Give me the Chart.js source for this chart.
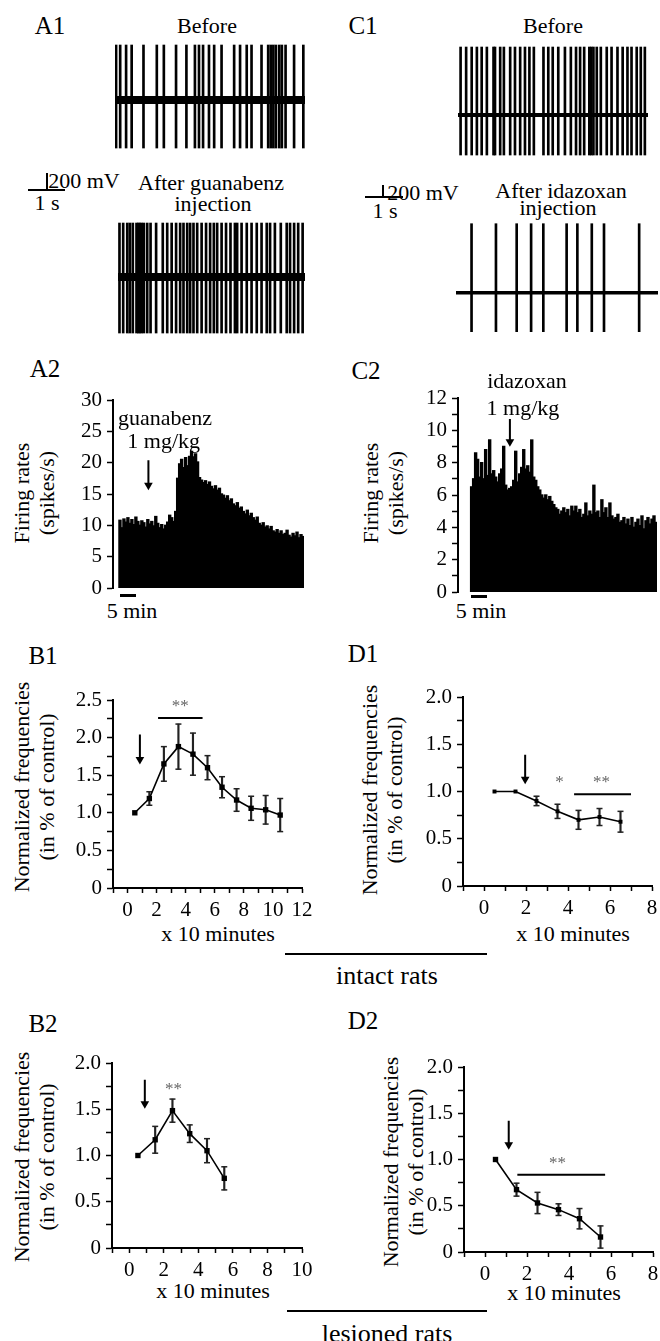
<!DOCTYPE html>
<html>
<head>
<meta charset="utf-8">
<script src="https://cdn.jsdelivr.net/npm/chart.js@4"></script>
<style>
  html, body { margin: 0; padding: 0; background: #fff; }
  body { width: 660px; height: 1341px; overflow: hidden; position: relative;
         font-family: 'Liberation Serif', 'Times New Roman', serif; color: #000; }
  canvas { position: absolute; }
  .t { position: absolute; transform: translate(-50%, -50%); white-space: nowrap;
       font-size: 22px; line-height: 25px; text-align: center; }
  .p { font-size: 25px; }
  .big { font-size: 26px; }
  .rot { transform: translate(-50%, -50%) rotate(-90deg); }
  .bar { position: absolute; background: #000; }
</style>
</head>
<body>

<!-- A1 / C1 -->
<div class="t p" style="left:50px;top:25px">A1</div>
<div class="t" style="left:207px;top:25px">Before</div>
<div class="t p" style="left:363px;top:25px">C1</div>
<div class="t" style="left:553px;top:25px">Before</div>

<div class="bar" style="left:46px;top:173px;width:2px;height:17px"></div>
<div class="bar" style="left:28px;top:189px;width:37px;height:2px"></div>
<div class="t" style="left:84px;top:180px">200 mV</div>
<div class="t" style="left:47px;top:202px">1 s</div>
<div class="t" style="left:211px;top:182px">After guanabenz</div>
<div class="t" style="left:213px;top:203px">injection</div>

<div class="bar" style="left:382px;top:185px;width:2px;height:12px"></div>
<div class="bar" style="left:365px;top:196px;width:38px;height:2px"></div>
<div class="t" style="left:423px;top:192px">200 mV</div>
<div class="t" style="left:385px;top:210px">1 s</div>
<div class="t" style="left:561px;top:190px">After idazoxan</div>
<div class="t" style="left:558px;top:207px">injection</div>

<!-- A2 / C2 -->
<div class="t p" style="left:45px;top:368px">A2</div>
<div class="t p" style="left:366px;top:370px">C2</div>
<div class="t rot" style="left:34px;top:493px">Firing rates<br>(spikes/s)</div>
<div class="t rot" style="left:383px;top:493px">Firing rates<br>(spikes/s)</div>
<div class="bar" style="left:120px;top:594px;width:16px;height:3px"></div>
<div class="bar" style="left:471px;top:595px;width:16px;height:3px"></div>
<div class="t" style="left:132px;top:610px">5 min</div>
<div class="t" style="left:481px;top:610px">5 min</div>

<!-- B1 / D1 -->
<div class="t p" style="left:43px;top:655px">B1</div>
<div class="t p" style="left:363px;top:653px">D1</div>
<div class="t rot" style="left:34px;top:787px">Normalized frequencies<br>(in % of control)</div>
<div class="t rot" style="left:382px;top:790px">Normalized frequencies<br>(in % of control)</div>
<div class="t" style="left:218px;top:933px">x 10 minutes</div>
<div class="t" style="left:573px;top:933px">x 10 minutes</div>
<div class="bar" style="left:285px;top:953px;width:202px;height:2px"></div>
<div class="t big" style="left:387px;top:975px">intact rats</div>

<!-- B2 / D2 -->
<div class="t p" style="left:43px;top:1023px">B2</div>
<div class="t p" style="left:363px;top:1020px">D2</div>
<div class="t rot" style="left:34px;top:1157px">Normalized frequencies<br>(in % of control)</div>
<div class="t rot" style="left:403px;top:1162px">Normalized frequencies<br>(in % of control)</div>
<div class="t" style="left:213px;top:1290px">x 10 minutes</div>
<div class="t" style="left:564px;top:1292px">x 10 minutes</div>
<div class="bar" style="left:287px;top:1310px;width:200px;height:2px"></div>
<div class="t big" style="left:387px;top:1333px">lesioned rats</div>

<script>
// ---- data ----

// spike times (s) in each 5 s trace
const spikesA1Before = [0.03, 0.14, 0.30, 0.45, 0.77, 1.13, 1.32, 1.65, 1.93, 2.16, 2.27, 2.38, 2.54, 2.68,
  2.88, 3.22, 3.38, 3.56, 3.69, 3.96, 4.14, 4.21, 4.28, 4.35, 4.44, 4.51, 4.61, 4.84, 5.09];
const spikesA1After = [0.04, 0.14, 0.25, 0.32, 0.40, 0.50, 0.55, 0.59, 0.64, 0.70, 0.79, 0.88, 1.03, 1.21,
  1.33, 1.45, 1.57, 1.68, 1.77, 1.87, 1.95, 2.04, 2.14, 2.26, 2.38, 2.49, 2.59, 2.68, 2.80, 2.92, 3.04,
  3.16, 3.22, 3.34, 3.48, 3.61, 3.75, 3.88, 4.02, 4.11, 4.24, 4.40, 4.56, 4.65, 4.76, 4.87, 4.99];
const spikesC1Before = [0.07, 0.22, 0.37, 0.51, 0.64, 0.78, 0.96, 1.00, 1.14, 1.24, 1.41, 1.54, 1.68, 1.81,
  1.93, 2.05, 2.31, 2.44, 2.56, 2.71, 2.89, 3.05, 3.19, 3.30, 3.41, 3.55, 3.60, 3.66, 3.75, 3.86, 4.02,
  4.15, 4.31, 4.45, 4.58, 4.69, 4.83, 4.94, 5.05];
const spikesC1After = [0.42, 1.08, 1.64, 2.03, 2.36, 2.99, 3.28, 3.67, 4.00, 4.95];
// spike peak / trough (mV)
const peaksA1Before = [647, -565];
const peaksA1After = [635, -659];
const peaksC1Before = [1133, -667];
const peaksC1After = [1150, -650];

// firing rate histograms (spikes/s), consecutive bins
const rateGuanabenz = [
  10.8, 9.6, 11.0, 10.5, 11.2, 10.3, 10.9, 10.1, 11.3, 10.6,
  10.0, 10.7, 10.4, 9.7, 10.9, 10.2, 10.6, 9.9, 11.4, 10.3,
  9.6, 10.1, 9.4, 10.0, 10.5, 11.6, 11.2, 10.6, 12.2, 17.5,
  19.8, 20.5, 19.2, 20.8, 19.5, 21.0, 21.8, 20.9, 21.4, 20.1,
  17.6, 17.2, 16.8, 17.1, 16.5, 16.9, 16.2, 15.8, 16.3, 15.6,
  15.9, 15.0, 14.8, 14.3, 14.7, 13.9, 14.2, 13.4, 13.1, 13.6,
  12.7, 12.9, 12.2, 11.8, 12.4, 11.5, 11.9, 11.2, 10.8, 11.3,
  10.3, 10.0, 10.4, 9.7, 9.9, 9.4, 9.8, 9.1, 8.9, 9.3,
  8.7, 9.1, 8.5, 8.7, 9.2, 8.4, 8.1, 8.7, 8.3, 8.9,
  8.0, 8.5, 8.2];
const rateIdazoxan = [
  6.5, 7.0, 8.6, 8.2, 7.1, 8.0, 7.0, 8.8, 7.2, 9.4,
  7.3, 7.5, 7.1, 6.8, 7.3, 7.6, 9.0, 6.6, 6.3, 6.4,
  6.5, 6.9, 8.7, 6.8, 7.3, 7.7, 8.8, 7.6, 7.8, 7.4,
  9.4, 7.1, 6.9, 6.5, 6.3, 6.0, 5.8, 6.0, 5.7, 5.9,
  5.6, 5.4, 5.2, 5.1, 4.8, 5.0, 5.2, 4.9, 5.1, 4.7,
  5.3, 5.0, 5.3, 4.9, 5.1, 4.6, 4.8, 5.5, 4.7, 5.0,
  4.8, 6.6, 4.9, 5.0, 4.6, 5.7, 4.9, 5.2, 4.6, 5.5,
  4.7, 4.5, 4.6, 4.8, 4.3, 4.4, 4.6, 4.2, 4.5, 4.1,
  4.6, 4.0, 4.3, 4.5, 4.1, 4.7, 3.9, 4.4, 4.6, 4.2,
  4.5, 4.7, 4.3];

// normalized frequencies, time in units of 10 min
const timeB1 = [0.5, 1.5, 2.5, 3.5, 4.5, 5.5, 6.5, 7.5, 8.5, 9.5, 10.5];
const freqB1 = [1.00, 1.19, 1.65, 1.88, 1.78, 1.60, 1.34, 1.17, 1.06, 1.04, 0.97];
const semB1 = [0, 0.09, 0.23, 0.30, 0.28, 0.16, 0.14, 0.15, 0.16, 0.19, 0.22];

const timeD1 = [0.5, 1.5, 2.5, 3.5, 4.5, 5.5, 6.5];
const freqD1 = [1.00, 1.00, 0.90, 0.79, 0.70, 0.73, 0.68];
const semD1 = [0, 0, 0.05, 0.075, 0.10, 0.09, 0.11];

const timeB2 = [0.5, 1.5, 2.5, 3.5, 4.5, 5.5];
const freqB2 = [1.00, 1.17, 1.485, 1.236, 1.052, 0.753];
const semB2 = [0, 0.145, 0.125, 0.095, 0.13, 0.125];

const timeD2 = [0.5, 1.5, 2.5, 3.5, 4.5, 5.5];
const freqD2 = [1.00, 0.674, 0.53, 0.458, 0.36, 0.162];
const semD2 = [0, 0.07, 0.115, 0.063, 0.11, 0.12];

// ---- drawing ----
const FONT = "'Liberation Serif', 'Times New Roman', serif";
Chart.defaults.font.family = FONT;
Chart.defaults.color = '#000';

// text placed at data coordinates
const notesPlugin = {
  id: 'notes',
  afterDatasetsDraw(chart, args, opts) {
    const ctx = chart.ctx, xs = chart.scales.x, ys = chart.scales.y;
    (opts.items || []).forEach(n => {
      ctx.save();
      ctx.font = n.font || ('22px ' + FONT);
      ctx.fillStyle = n.color || '#000';
      ctx.textAlign = 'center';
      ctx.textBaseline = 'middle';
      ctx.fillText(n.text, xs.getPixelForValue(n.x), ys.getPixelForValue(n.y));
      ctx.restore();
    });
  }
};

function place(box, yW, xH, pad) {
  const c = document.createElement('canvas');
  const left = box.l - yW, top = box.t - pad[0];
  c.width = box.r + pad[1] - left;
  c.height = box.b + xH + pad[2] - top;
  c.style.left = left + 'px';
  c.style.top = top + 'px';
  document.body.appendChild(c);
  return c;
}

function baseOptions(pad) {
  return {
    responsive: false, animation: false, events: [],
    layout: { autoPadding: false, padding: { top: pad[0], right: pad[1], bottom: pad[2], left: 0 } },
    plugins: { legend: { display: false }, tooltip: { enabled: false } }
  };
}

function arrow(x, y0, y1, r) {
  return {
    type: 'line', data: [{ x: x, y: y0 }, { x: x, y: y1 }],
    borderColor: '#000', borderWidth: 2,
    pointRadius: [0, r || 5], pointStyle: 'triangle', pointRotation: 180,
    pointBackgroundColor: '#000', pointBorderWidth: 0, clip: false
  };
}

function hline(x0, x1, y) {
  return { type: 'line', data: [{ x: x0, y: y }, { x: x1, y: y }],
    borderColor: '#000', borderWidth: 2, pointRadius: 0, clip: false };
}

// spike traces
function trace(box, baseY, mvPerPx, spikes, peaks, lineW) {
  const span = (box.r - box.l) / 37;
  const c = place(box, 0, 0, [0, 0, 0]);
  const opt = baseOptions([0, 0, 0]);
  opt.scales = {
    x: { type: 'linear', display: false, min: 0, max: span, offset: false, grid: { offset: false } },
    y: { display: false, min: -(box.b - baseY) * mvPerPx, max: (baseY - box.t) * mvPerPx }
  };
  new Chart(c, {
    type: 'bar',
    data: { datasets: [
      { type: 'line', data: [{ x: 0, y: 0 }, { x: span, y: 0 }], borderColor: '#000',
        borderWidth: lineW, pointRadius: 0 },
      { data: spikes.map(t => ({ x: t, y: [peaks[1], peaks[0]] })), backgroundColor: '#000',
        barThickness: 2, grouped: false }
    ] },
    options: opt
  });
}

trace({ l: 115, t: 40, r: 305, b: 158 }, 100, 200 / 17, spikesA1Before, peaksA1Before, 8);
trace({ l: 118, t: 218, r: 305, b: 338 }, 277, 200 / 17, spikesA1After, peaksA1After, 8);
trace({ l: 458, t: 42, r: 648, b: 160 }, 115, 200 / 12, spikesC1Before, peaksC1Before, 4);
trace({ l: 456, t: 219, r: 658, b: 336 }, 292.7, 200 / 12, spikesC1After, peaksC1After, 3.5);

function yAxis(yW, min, max, step, labelEvery, fmt) {
  return {
    min: min, max: max,
    ticks: { stepSize: step, autoSkip: false, padding: 5, font: { size: 21 },
      callback: v => (Math.abs(v / labelEvery - Math.round(v / labelEvery)) < 1e-6) ? fmt(v) : '' },
    grid: { drawOnChartArea: false, drawTicks: true, tickLength: 6, tickWidth: 1.5,
      tickColor: '#000', offset: false },
    border: { display: true, color: '#000', width: 2 },
    afterFit: s => { s.width = yW; s.paddingTop = 0; s.paddingBottom = 0; }
  };
}

// firing-rate histograms
function histogram(box, rate, xMin, yMax, step, labelEvery, arr, notes) {
  const pad = [30, 3, 12];
  const c = place(box, 50, 0, pad);
  const opt = baseOptions(pad);
  opt.scales = {
    x: { type: 'linear', display: false, min: xMin, max: rate.length - 0.5, offset: false,
      grid: { offset: false } },
    y: yAxis(50, 0, yMax, step, labelEvery, v => String(v))
  };
  opt.plugins.notes = { items: notes };
  new Chart(c, {
    type: 'bar',
    data: { datasets: [
      arrow(arr[0], arr[1], arr[2], 5),
      { data: rate.map((v, i) => ({ x: i, y: v })), backgroundColor: '#000', borderWidth: 0,
        barPercentage: 1, categoryPercentage: 1, grouped: false, inflateAmount: 0.7 }
    ] },
    options: opt,
    plugins: [notesPlugin]
  });
}

histogram({ l: 113, t: 400, r: 304, b: 588 }, rateGuanabenz, -3.5, 30, 5, 5, [14.3, 20.4, 16.4],
  [{ x: 22.6, y: 27.0, text: 'guanabenz' }, { x: 22.0, y: 23.2, text: '1 mg/kg' }]);
histogram({ l: 458, t: 398, r: 657, b: 592 }, rateIdazoxan, -6.8, 12, 1, 2, [19.1, 10.7, 9.3],
  [{ x: 27.6, y: 12.95, text: 'idazoxan' }, { x: 25.6, y: 11.29, text: '1 mg/kg' }]);

// normalized frequency panels
function panel(box, xMax, yMax, time, freq, sem, ptR, extras, notes, padR) {
  const pad = [14, padR, 0];
  const c = place(box, 50, 36, pad);
  const opt = baseOptions(pad);
  const caps = [];
  time.forEach((t, i) => {
    if (sem[i] > 0) { caps.push({ x: t, y: freq[i] - sem[i] }); caps.push({ x: t, y: freq[i] + sem[i] }); }
  });
  opt.scales = {
    x: { type: 'linear', min: -1, max: xMax, offset: false,
      ticks: { stepSize: 1, autoSkip: false, maxRotation: 0, padding: 5, font: { size: 21 },
        callback: v => (v >= 0 && v % 2 === 0) ? String(v) : '' },
      grid: { drawOnChartArea: false, drawTicks: true, tickLength: 5, tickWidth: 1.5,
        tickColor: '#000', offset: false },
      border: { display: true, color: '#000', width: 2 },
      afterFit: s => { s.height = 36; s.paddingLeft = 0; s.paddingRight = 0; } },
    y: yAxis(50, 0, yMax, 0.25, 0.5, v => v === 0 ? '0' : v.toFixed(1))
  };
  opt.plugins.notes = { items: notes };
  new Chart(c, {
    type: 'line',
    data: { datasets: [
      { data: time.map((t, i) => ({ x: t, y: freq[i] })), borderColor: '#000', borderWidth: 1.6,
        pointStyle: 'rect', pointRadius: ptR, pointBackgroundColor: '#000', pointBorderWidth: 0 },
      { type: 'line', showLine: false, data: caps, pointStyle: 'line', pointRadius: 3,
        pointBorderWidth: 1.5, pointBorderColor: '#222' },
      { type: 'bar', data: time.map((t, i) => ({ x: t, y: [freq[i] - sem[i], freq[i] + sem[i]] }))
          .filter((d, i) => sem[i] > 0),
        backgroundColor: '#222', barThickness: 1.5, grouped: false },
      ...extras
    ] },
    options: opt,
    plugins: [notesPlugin]
  });
}

const GRAY = '#666';
const STAR = '17px ' + FONT;

panel({ l: 113, t: 700, r: 302, b: 888 }, 12, 2.5, timeB1, freqB1, semB1, 3.8,
  [arrow(0.85, 2.04, 1.71, 5), hline(2.1, 5.16, 2.26)],
  [{ x: 3.63, y: 2.41, text: '**', font: STAR, color: GRAY }], 14);
panel({ l: 463, t: 697, r: 652, b: 886 }, 8, 2.0, timeD1, freqD1, semD1, 2.8,
  [arrow(1.96, 1.39, 1.13, 5), hline(4.29, 7.0, 0.97)],
  [{ x: 3.6, y: 1.09, text: '*', font: STAR, color: GRAY }, { x: 5.6, y: 1.1, text: '**', font: STAR, color: GRAY }], 8);
panel({ l: 112, t: 1063, r: 302, b: 1248 }, 10, 2.0, timeB2, freqB2, semB2, 3.8,
  [arrow(0.9, 1.82, 1.56, 5)],
  [{ x: 2.56, y: 1.71, text: '**', font: STAR, color: GRAY }], 14);
panel({ l: 464, t: 1067, r: 653, b: 1252 }, 8, 2.0, timeD2, freqD2, semD2, 3.8,
  [arrow(1.13, 1.42, 1.16, 5), hline(1.54, 5.72, 0.836)],
  [{ x: 3.45, y: 0.955, text: '**', font: STAR, color: GRAY }], 7);
</script>
</body>
</html>
